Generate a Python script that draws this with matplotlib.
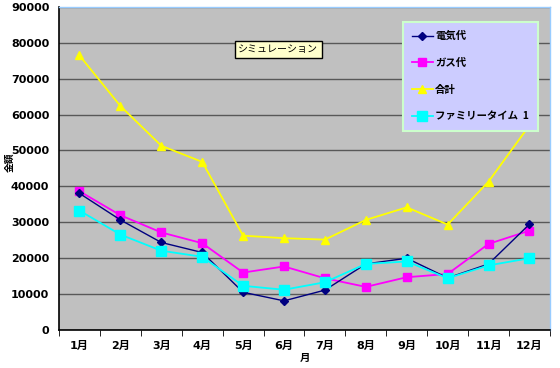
import matplotlib.pyplot as plt
import numpy as np

plt.rcParams["font.family"] = ["DejaVu Sans", "Noto Sans CJK JP"]

months = ["1月", "2月", "3月", "4月", "5月", "6月", "7月", "8月", "9月", "10月", "11月", "12月"]
denki = [38000, 30600, 24300, 21500, 10400, 8000, 11000, 18300, 19900, 14400, 18300, 29400]
gas = [38600, 31900, 27100, 24100, 15900, 17600, 14300, 11900, 14600, 15500, 23900, 27600]
total = [76500, 62400, 51300, 46800, 26200, 25500, 25100, 30600, 34100, 29300, 41300, 57000]
family = [33200, 26500, 22000, 20300, 12200, 11100, 13200, 18300, 19000, 14300, 17900, 19900]

x = np.arange(1, len(months) + 1)
cjk = ["Noto Sans CJK JP", "DejaVu Sans"]

fig = plt.figure(figsize=(5.6, 3.68), dpi=100)
ax = fig.add_axes([0.1054, 0.1046, 0.8766, 0.876])
ax.set_facecolor("#c0c0c0")

ax.plot(x, total, color="#ffff00", marker="^", markersize=6, lw=1.3, label="合計", zorder=3)
ax.plot(x, gas, color="#ff00ff", marker="s", markersize=5.5, lw=1.3, label="ガス代", zorder=4)
ax.plot(x, denki, color="#000080", marker="D", markersize=4, lw=1.0, label="電気代", zorder=5)
ax.plot(x, family, color="#00ffff", marker="s", markersize=7, lw=1.3, label="ファミリータイム  1", zorder=6)

ax.set_xlim(0.5, 12.5)
ax.set_ylim(0, 90000)
ax.set_yticks(np.arange(0, 90001, 10000))
ax.set_yticklabels([str(v) for v in range(0, 90001, 10000)], fontsize=8, fontweight="bold")
ax.tick_params(axis="y", length=0, pad=7)
ax.yaxis.grid(True, color="#585858", lw=1.0)
ax.set_axisbelow(True)

ax.set_xticks(x)
ax.set_xticklabels(months, fontsize=8, fontweight="bold")
ax.set_xticks(np.arange(0.5, 12.6, 1), minor=True)
ax.tick_params(axis="x", which="major", length=0, pad=8)
ax.tick_params(axis="x", which="minor", length=4, direction="out", color="black")

for s in ["left", "bottom"]:
    ax.spines[s].set_color("black")
    ax.spines[s].set_linewidth(1.2)
for s in ["top", "right"]:
    ax.spines[s].set_color("#99ccff")
    ax.spines[s].set_linewidth(1.0)

# y label sits at the far left edge, so place it by hand
fig.text(10 / 560, 1 - 162 / 368, "金額", rotation=90, fontsize=7, fontweight="bold",
         family=cjk, ha="center", va="center")
ax.set_xlabel("月", fontsize=7.5, fontweight="bold", labelpad=2, family=cjk)

ax.text(0.365, 0.869, "シミュレーション", transform=ax.transAxes, fontsize=7.2,
        ha="left", va="center", family=cjk,
        bbox=dict(boxstyle="square,pad=0.33", facecolor="#ffffcc", edgecolor="black", lw=1.0))

handles, labels = ax.get_legend_handles_labels()
order = [2, 1, 0, 3]
leg = ax.legend([handles[i] for i in order], [labels[i] for i in order],
                loc="upper left", bbox_to_anchor=(0.70, 0.955),
                prop={"family": cjk, "size": 7.5, "weight": "bold"},
                frameon=True, fancybox=False, borderpad=0.9, labelspacing=1.6,
                handlelength=2.0, handletextpad=0.2, borderaxespad=0)
leg.get_frame().set_facecolor("#ccccff")
leg.get_frame().set_edgecolor("#ccffcc")
leg.get_frame().set_linewidth(1.5)
leg.get_frame().set_alpha(1)

fig.savefig("out.png", dpi=100)
